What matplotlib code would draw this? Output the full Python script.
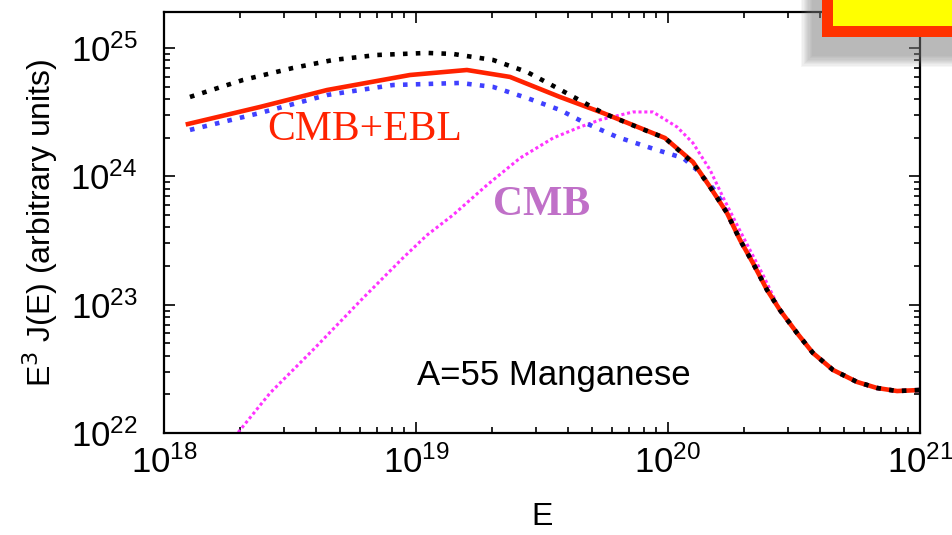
import numpy as np
import matplotlib
matplotlib.use("Agg")
import matplotlib.pyplot as plt
from matplotlib.patches import Rectangle

plt.rcParams['font.family'] = ['Liberation Sans', 'DejaVu Sans']

# log10 of energy / log10 of E^3 J(E)
tail_logE = [20.167, 20.234, 20.286, 20.337, 20.393, 20.444, 20.512, 20.575,
             20.655, 20.750, 20.829, 20.909, 21.0]
tail_logY = [23.917, 23.715, 23.504, 23.325, 23.115, 22.959, 22.779, 22.624,
             22.491, 22.398, 22.351, 22.327, 22.335]

black_logE = [18.103, 18.313, 18.512, 18.671, 18.845, 19.044, 19.147, 19.306,
              19.440, 19.560, 19.742, 19.877, 19.988, 20.099]
black_logY = [24.619, 24.751, 24.845, 24.907, 24.946, 24.962, 24.954, 24.907,
              24.814, 24.689, 24.494, 24.385, 24.299, 24.104]

red_logE = [18.095, 18.381, 18.647, 18.976, 19.202, 19.373, 19.571, 19.742,
            19.988, 20.099]
red_logY = [24.408, 24.541, 24.673, 24.790, 24.829, 24.775, 24.619, 24.494,
            24.299, 24.112]

blue_logE = [18.103, 18.381, 18.647, 18.909, 19.175, 19.306, 19.440, 19.571,
             19.663, 19.798, 19.956, 20.060, 20.115, 20.194]
blue_logY = [24.362, 24.494, 24.634, 24.712, 24.728, 24.697, 24.611, 24.518,
             24.424, 24.307, 24.206, 24.143, 24.050, 23.871]

mag_logE = [18.28, 18.421, 18.591, 18.790, 18.948, 19.044, 19.147, 19.282,
            19.413, 19.544, 19.651, 19.730, 19.861, 19.940, 20.036, 20.099,
            20.167, 20.218, 20.29, 20.38]
mag_logY = [21.97, 22.312, 22.647, 23.052, 23.364, 23.543, 23.699, 23.933,
            24.143, 24.299, 24.385, 24.440, 24.502, 24.502, 24.385, 24.260,
            24.050, 23.839, 23.56, 23.22]


def curve(le, ly, tail_from=0):
    e = np.power(10.0, np.array(le + tail_logE[tail_from:]))
    y = np.power(10.0, np.array(ly + tail_logY[tail_from:]))
    return e, y


W, H = 953, 535
fig = plt.figure(figsize=(W / 100, H / 100), dpi=100)
ax = fig.add_axes([164 / W, 1 - 433 / H, 756 / W, 421 / H])

e, y = curve(mag_logE, mag_logY, 5)
ax.plot(e, y, color='#ff33ff', lw=2.2, ls=(0, (1, 0.9)))
e, y = curve(blue_logE, blue_logY, 1)
ax.plot(e, y, color='#4040ff', lw=3.3, ls=(0, (1, 1.8)))
e, y = curve(red_logE, red_logY)
ax.plot(e, y, color='#ff2200', lw=3.3)
e, y = curve(black_logE, black_logY)
ax.plot(e, y, color='black', lw=3.3, ls=(0, (1, 1.8)))

ax.set_xscale('log')
ax.set_yscale('log')
ax.set_xlim(1e18, 1e21)
ax.set_ylim(1e22, 10 ** 25.281)

ax.text(2.56e18, 1.92e24, 'CMB+EBL', color='#ff2200', fontsize=30,
        family='Liberation Serif', ha='left', va='baseline')
ax.text(2.02e19, 5.0e23, 'CMB', color='#c070c8', fontsize=30, fontweight='bold',
        family='Liberation Serif', ha='left', va='baseline')
ax.text(1.01e19, 2.37e22, 'A=55 Manganese', color='black', fontsize=25,
        ha='left', va='baseline')

ax.set_xlabel('E', fontsize=23)
ax.set_ylabel('E$^3$ J(E) (arbitrary units)', fontsize=23)
ax.xaxis.set_label_coords(0.5, -0.165)
ax.yaxis.set_label_coords(-0.138, 0.5)

for s in ax.spines.values():
    s.set_linewidth(1.6)
ax.tick_params(which='both', direction='in', top=True, right=True, width=1.2)
ax.tick_params(which='major', length=8, labelsize=25)
ax.tick_params(which='minor', length=4.5)
ax.tick_params(axis='x', pad=9)
ax.tick_params(axis='y', pad=19)

# framed box in the top right corner, with its drop shadow
def px_rect(x0, y0, x1, y1, **kw):
    r = Rectangle((x0 / W, 1 - y1 / H), (x1 - x0) / W, (y1 - y0) / H,
                  transform=fig.transFigure, **kw)
    fig.add_artist(r)

for k in range(10):
    px_rect(812 - k * 1.2, -10, 970, 56 + k * 1.2, facecolor='#808080',
            edgecolor='none', alpha=0.07, zorder=10)
px_rect(822, -10, 970, 37, facecolor='#ff3300', edgecolor='none', zorder=11)
px_rect(833, -10, 970, 26, facecolor='#ffff00', edgecolor='none', zorder=12)

fig.savefig('out.png', dpi=100)
